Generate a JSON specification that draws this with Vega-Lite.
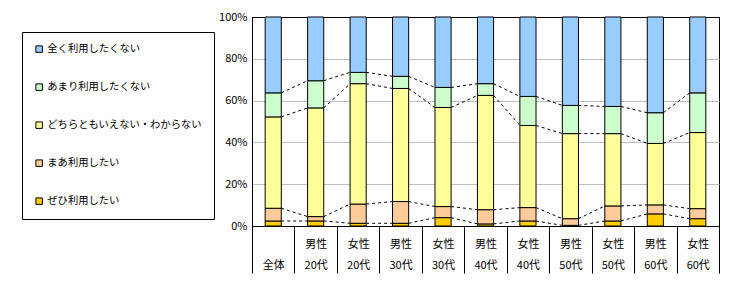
{
  "$schema": "https://vega.github.io/schema/vega-lite/v6.json",
  "width": 467,
  "height": 209,
  "autosize": "none",
  "padding": {"left": 252, "top": 17, "right": 11, "bottom": 59},
  "background": "white",
  "config": {
    "font": "Noto Sans CJK JP",
    "view": {"stroke": "black", "strokeWidth": 1}
  },
  "data": {
    "values": [
      {"cat": "全体", "s": "ぜひ利用したい", "v": 2.4},
      {"cat": "全体", "s": "まあ利用したい", "v": 6.1},
      {"cat": "全体", "s": "どちらともいえない・わからない", "v": 43.7},
      {"cat": "全体", "s": "あまり利用したくない", "v": 11.5},
      {"cat": "全体", "s": "全く利用したくない", "v": 36.3},
      {"cat": "男性 20代", "s": "ぜひ利用したい", "v": 2.4},
      {"cat": "男性 20代", "s": "まあ利用したい", "v": 2.1},
      {"cat": "男性 20代", "s": "どちらともいえない・わからない", "v": 52.0},
      {"cat": "男性 20代", "s": "あまり利用したくない", "v": 13.0},
      {"cat": "男性 20代", "s": "全く利用したくない", "v": 30.5},
      {"cat": "女性 20代", "s": "ぜひ利用したい", "v": 1.3},
      {"cat": "女性 20代", "s": "まあ利用したい", "v": 9.2},
      {"cat": "女性 20代", "s": "どちらともいえない・わからない", "v": 57.6},
      {"cat": "女性 20代", "s": "あまり利用したくない", "v": 5.4},
      {"cat": "女性 20代", "s": "全く利用したくない", "v": 26.5},
      {"cat": "男性 30代", "s": "ぜひ利用したい", "v": 1.3},
      {"cat": "男性 30代", "s": "まあ利用したい", "v": 10.4},
      {"cat": "男性 30代", "s": "どちらともいえない・わからない", "v": 54.1},
      {"cat": "男性 30代", "s": "あまり利用したくない", "v": 5.8},
      {"cat": "男性 30代", "s": "全く利用したくない", "v": 28.4},
      {"cat": "女性 30代", "s": "ぜひ利用したい", "v": 4.0},
      {"cat": "女性 30代", "s": "まあ利用したい", "v": 5.3},
      {"cat": "女性 30代", "s": "どちらともいえない・わからない", "v": 47.4},
      {"cat": "女性 30代", "s": "あまり利用したくない", "v": 9.6},
      {"cat": "女性 30代", "s": "全く利用したくない", "v": 33.7},
      {"cat": "男性 40代", "s": "ぜひ利用したい", "v": 1.0},
      {"cat": "男性 40代", "s": "まあ利用したい", "v": 6.8},
      {"cat": "男性 40代", "s": "どちらともいえない・わからない", "v": 54.7},
      {"cat": "男性 40代", "s": "あまり利用したくない", "v": 5.6},
      {"cat": "男性 40代", "s": "全く利用したくない", "v": 31.9},
      {"cat": "女性 40代", "s": "ぜひ利用したい", "v": 2.4},
      {"cat": "女性 40代", "s": "まあ利用したい", "v": 6.4},
      {"cat": "女性 40代", "s": "どちらともいえない・わからない", "v": 39.3},
      {"cat": "女性 40代", "s": "あまり利用したくない", "v": 13.9},
      {"cat": "女性 40代", "s": "全く利用したくない", "v": 38.0},
      {"cat": "男性 50代", "s": "ぜひ利用したい", "v": 0.3},
      {"cat": "男性 50代", "s": "まあ利用したい", "v": 3.2},
      {"cat": "男性 50代", "s": "どちらともいえない・わからない", "v": 40.7},
      {"cat": "男性 50代", "s": "あまり利用したくない", "v": 13.5},
      {"cat": "男性 50代", "s": "全く利用したくない", "v": 42.3},
      {"cat": "女性 50代", "s": "ぜひ利用したい", "v": 2.4},
      {"cat": "女性 50代", "s": "まあ利用したい", "v": 7.2},
      {"cat": "女性 50代", "s": "どちらともいえない・わからない", "v": 34.6},
      {"cat": "女性 50代", "s": "あまり利用したくない", "v": 13.0},
      {"cat": "女性 50代", "s": "全く利用したくない", "v": 42.8},
      {"cat": "男性 60代", "s": "ぜひ利用したい", "v": 5.8},
      {"cat": "男性 60代", "s": "まあ利用したい", "v": 4.3},
      {"cat": "男性 60代", "s": "どちらともいえない・わからない", "v": 29.4},
      {"cat": "男性 60代", "s": "あまり利用したくない", "v": 14.7},
      {"cat": "男性 60代", "s": "全く利用したくない", "v": 45.8},
      {"cat": "女性 60代", "s": "ぜひ利用したい", "v": 3.5},
      {"cat": "女性 60代", "s": "まあ利用したい", "v": 4.8},
      {"cat": "女性 60代", "s": "どちらともいえない・わからない", "v": 36.4},
      {"cat": "女性 60代", "s": "あまり利用したくない", "v": 19.0},
      {"cat": "女性 60代", "s": "全く利用したくない", "v": 36.3}
    ]
  },
  "layer": [
    {
      "transform": [
        {"calculate": "indexof(['ぜひ利用したい','まあ利用したい','どちらともいえない・わからない','あまり利用したくない','全く利用したくない'], datum.s)", "as": "o"}
      ],
      "mark": {"type": "bar", "width": {"band": 0.38}, "stroke": "black", "strokeWidth": 1},
      "encoding": {
        "x": {
          "field": "cat", "type": "nominal",
          "scale": {"domain": ["全体","男性 20代","女性 20代","男性 30代","女性 30代","男性 40代","女性 40代","男性 50代","女性 50代","男性 60代","女性 60代"], "paddingInner": 0, "paddingOuter": 0},
          "axis": {
            "title": null, "grid": false, "domainColor": "black", "tickColor": "black",
            "tickSize": 47, "tickBand": "extent", "labelAngle": 0, "labelFontSize": 11,
            "labelColor": "black", "labelOverlap": false,
            "labelExpr": "datum.value ? split(datum.value, ' ') : ''",
            "labelLineHeight": 21,
            "labelPadding": {"condition": {"test": "datum.value == '全体'", "value": -14}, "value": -35},
            "labelBaseline": "top"
          }
        },
        "y": {
          "field": "v", "type": "quantitative", "stack": "zero",
          "scale": {"domain": [0, 100], "nice": false},
          "axis": {
            "title": null, "values": [0, 20, 40, 60, 80, 100],
            "labelExpr": "datum.value + '%'", "ticks": false, "domainColor": "black",
            "gridColor": {"condition": {"test": "datum.value == 100 || datum.value == 0", "value": "black"}, "value": "#C0C0C0"},
            "labelFontSize": 11, "labelColor": "black", "labelPadding": 5
          }
        },
        "color": {
          "field": "s", "type": "nominal",
          "scale": {
            "domain": ["全く利用したくない","あまり利用したくない","どちらともいえない・わからない","まあ利用したい","ぜひ利用したい"],
            "range": ["#99CCFF","#CCFFCC","#FFFF99","#FFCC99","#FFCC00"]
          },
          "legend": {
            "title": null, "orient": "none", "legendX": -230, "legendY": 15,
            "strokeColor": "black", "fillColor": "white", "padding": 12,
            "symbolType": "square", "symbolSize": 42, "symbolStrokeColor": "black",
            "symbolStrokeWidth": 1, "labelFontSize": 10.3, "labelColor": "black",
            "rowPadding": 26, "labelOffset": 3, "labelLimit": 300
          }
        },
        "order": {"field": "o", "type": "quantitative"}
      }
    },
    {
      "transform": [
        {"calculate": "indexof(['ぜひ利用したい','まあ利用したい','どちらともいえない・わからない','あまり利用したくない','全く利用したくない'], datum.s)", "as": "o"},
        {"calculate": "indexof(['全体','男性 20代','女性 20代','男性 30代','女性 30代','男性 40代','女性 40代','男性 50代','女性 50代','男性 60代','女性 60代'], datum.cat)", "as": "ci"},
        {"stack": "v", "groupby": ["cat"], "sort": [{"field": "o", "order": "ascending"}], "as": ["y0", "y1"]},
        {"window": [{"op": "lead", "field": "y1", "as": "ny"}, {"op": "lead", "field": "cat", "as": "ncat"}], "groupby": ["s"], "sort": [{"field": "ci", "order": "ascending"}]},
        {"filter": "datum.ncat != null && datum.o < 4"}
      ],
      "mark": {"type": "rule", "color": "black", "strokeWidth": 1, "strokeDash": [3, 3], "xOffset": 8, "x2Offset": -8},
      "encoding": {
        "x": {"field": "cat", "type": "nominal"},
        "x2": {"field": "ncat"},
        "y": {"field": "y1", "type": "quantitative"},
        "y2": {"field": "ny"}
      }
    }
  ]
}
